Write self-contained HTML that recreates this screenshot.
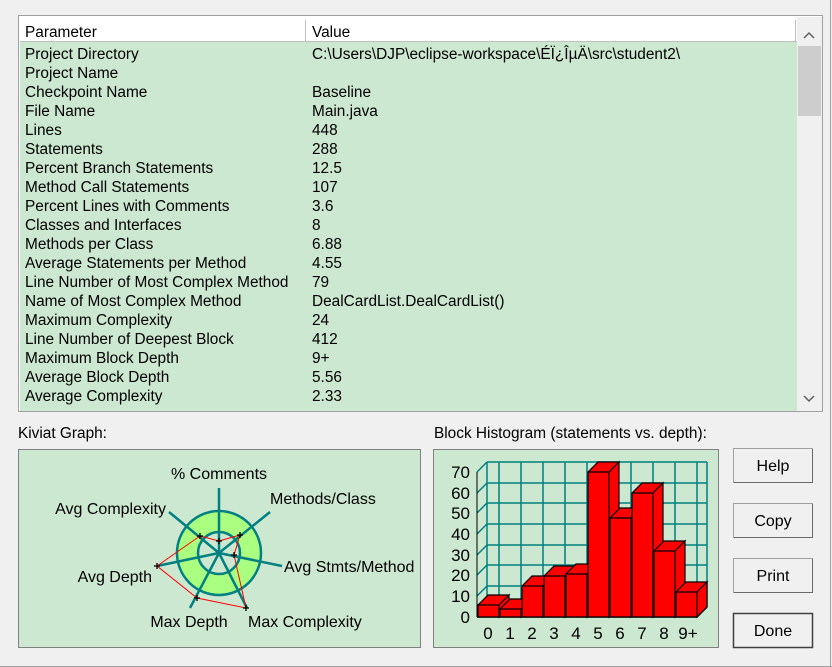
<!DOCTYPE html>
<html><head><meta charset="utf-8"><style>
body{margin:0;background:#f0f0f0;width:832px;height:667px;overflow:hidden;font-family:"Liberation Sans",sans-serif}
svg{display:block}
</style></head><body>
<svg width="832" height="667" xmlns="http://www.w3.org/2000/svg" font-family="Liberation Sans, sans-serif">
<rect width="832" height="667" fill="#f0f0f0"/>
<line x1="830.5" y1="0" x2="830.5" y2="667" stroke="#a0a0a0"/>
<line x1="0" y1="666.5" x2="832" y2="666.5" stroke="#a0a0a0"/>
<!-- list -->
<rect x="18.5" y="15.5" width="804" height="396" fill="#fff" stroke="#a0a0a0"/>
<rect x="20" y="41" width="777" height="370" fill="#cde8d0"/>
<rect x="20" y="20" width="777" height="21" fill="#fff"/>
<line x1="20" y1="41.5" x2="797" y2="41.5" stroke="#c0c0c0"/>
<line x1="305.5" y1="20" x2="305.5" y2="41" stroke="#c0c0c0"/>
<line x1="795.5" y1="20" x2="795.5" y2="41" stroke="#c0c0c0"/>
<rect x="797" y="17" width="25" height="394" fill="#f0f0f0"/>
<rect x="798" y="46" width="23" height="70" fill="#cdcdcd"/>
<path d="M804 38l5-5 5 5" fill="none" stroke="#606060" stroke-width="1.5"/>
<path d="M804 396l5 5 5-5" fill="none" stroke="#606060" stroke-width="1.5"/>
<g font-size="15.4" fill="#000">
<text x="25" y="37">Parameter</text><text x="312" y="37">Value</text>
<g>
<text x="25" y="59">Project Directory</text><text x="312" y="59">C:\Users\DJP\eclipse-workspace\ÉÏ¿ÎµÄ\src\student2\</text>
<text x="25" y="78">Project Name</text>
<text x="25" y="97">Checkpoint Name</text><text x="312" y="97">Baseline</text>
<text x="25" y="116">File Name</text><text x="312" y="116">Main.java</text>
<text x="25" y="135">Lines</text><text x="312" y="135">448</text>
<text x="25" y="154">Statements</text><text x="312" y="154">288</text>
<text x="25" y="173">Percent Branch Statements</text><text x="312" y="173">12.5</text>
<text x="25" y="192">Method Call Statements</text><text x="312" y="192">107</text>
<text x="25" y="211">Percent Lines with Comments</text><text x="312" y="211">3.6</text>
<text x="25" y="230">Classes and Interfaces</text><text x="312" y="230">8</text>
<text x="25" y="249">Methods per Class</text><text x="312" y="249">6.88</text>
<text x="25" y="268">Average Statements per Method</text><text x="312" y="268">4.55</text>
<text x="25" y="287">Line Number of Most Complex Method</text><text x="312" y="287">79</text>
<text x="25" y="306">Name of Most Complex Method</text><text x="312" y="306">DealCardList.DealCardList()</text>
<text x="25" y="325">Maximum Complexity</text><text x="312" y="325">24</text>
<text x="25" y="344">Line Number of Deepest Block</text><text x="312" y="344">412</text>
<text x="25" y="363">Maximum Block Depth</text><text x="312" y="363">9+</text>
<text x="25" y="382">Average Block Depth</text><text x="312" y="382">5.56</text>
<text x="25" y="401">Average Complexity</text><text x="312" y="401">2.33</text>
</g>
<text x="18" y="438">Kiviat Graph:</text>
<text x="434" y="438">Block Histogram (statements vs. depth):</text>
</g>
<!-- kiviat -->
<rect x="18.5" y="449.5" width="402" height="198" fill="#cde8d0" stroke="#808080"/>
<circle cx="219" cy="553" r="42" fill="#aaff80" stroke="#008080" stroke-width="2.5"/>
<circle cx="219" cy="553" r="21" fill="#cde8d0" stroke="#008080" stroke-width="2.5"/>
<g stroke="#008080" stroke-width="2.5">
<line x1="219" y1="553" x2="219" y2="488"/><line x1="219" y1="553" x2="270" y2="512"/>
<line x1="219" y1="553" x2="282" y2="566"/><line x1="219" y1="553" x2="247" y2="608"/>
<line x1="219" y1="553" x2="190" y2="608"/><line x1="219" y1="553" x2="157" y2="566"/>
<line x1="219" y1="553" x2="169" y2="512"/>
</g>
<polygon points="219,541 240,535 234,555 246,608 197,598 157,566 200,536" fill="none" stroke="#ff0000" stroke-width="1"/>
<g stroke="#000" stroke-width="1.3">
<path d="M216 541h6M219 538v6M237 535h6M240 532v6M231 555h6M234 552v6M243 608h6M246 605v6M194 598h6M197 595v6M154 566h6M157 563v6M197 536h6M200 533v6"/>
</g>
<g font-size="16" fill="#000">
<text x="219" y="479" text-anchor="middle">% Comments</text>
<text x="270" y="504">Methods/Class</text>
<text x="166" y="514" text-anchor="end">Avg Complexity</text>
<text x="284" y="572">Avg Stmts/Method</text>
<text x="152" y="582" text-anchor="end">Avg Depth</text>
<text x="189" y="627" text-anchor="middle">Max Depth</text>
<text x="248" y="627">Max Complexity</text>
</g>
<!-- histogram -->
<rect x="433.5" y="449.5" width="285" height="198" fill="#cde8d0" stroke="#808080"/>
<g stroke="#008080" stroke-width="1.5" fill="none">
<line x1="487" y1="462" x2="487" y2="607"/>
<line x1="499" y1="462" x2="499" y2="607"/><line x1="521" y1="462" x2="521" y2="607"/><line x1="543" y1="462" x2="543" y2="607"/><line x1="565" y1="462" x2="565" y2="607"/><line x1="587" y1="462" x2="587" y2="607"/><line x1="609" y1="462" x2="609" y2="607"/><line x1="631" y1="462" x2="631" y2="607"/><line x1="653" y1="462" x2="653" y2="607"/><line x1="675" y1="462" x2="675" y2="607"/><line x1="697" y1="462" x2="697" y2="607"/><line x1="707" y1="462" x2="707" y2="607"/>
<line x1="487" y1="462" x2="707" y2="462"/><line x1="487" y1="483" x2="707" y2="483"/><line x1="487" y1="503" x2="707" y2="503"/><line x1="487" y1="524" x2="707" y2="524"/><line x1="487" y1="545" x2="707" y2="545"/><line x1="487" y1="565" x2="707" y2="565"/><line x1="487" y1="586" x2="707" y2="586"/>
<path d="M477 472l10-10M477 493l10-10M477 513l10-10M477 534l10-10M477 555l10-10M477 575l10-10M477 596l10-10"/>
</g>
<line x1="477" y1="472" x2="477" y2="617" stroke="#000"/>
<path d="M477 617H697L707 607" stroke="#000" fill="none" stroke-width="1.5"/>
<g stroke="#000" stroke-width="1.2" fill="#ff0000">
<path d="M478 605v12h21v-12zM478 605l10-10h21l-10 10M499 617v-12l10-10v12z"/>
<path d="M500 609v8h21v-8zM500 609l10-10h21l-10 10M521 617v-8l10-10v8z"/>
<path d="M522 586v31h21v-31zM522 586l10-10h21l-10 10M543 617v-31l10-10v31z"/>
<path d="M544 576v41h21v-41zM544 576l10-10h21l-10 10M565 617v-41l10-10v41z"/>
<path d="M566 574v43h21v-43zM566 574l10-10h21l-10 10M587 617v-43l10-10v43z"/>
<path d="M588 472v145h21v-145zM588 472l10-10h21l-10 10M609 617v-145l10-10v145z"/>
<path d="M610 518v99h21v-99zM610 518l10-10h21l-10 10M631 617v-99l10-10v99z"/>
<path d="M632 493v124h21v-124zM632 493l10-10h21l-10 10M653 617v-124l10-10v124z"/>
<path d="M654 551v66h21v-66zM654 551l10-10h21l-10 10M675 617v-66l10-10v66z"/>
<path d="M676 592v25h21v-25zM676 592l10-10h21l-10 10M697 617v-25l10-10v25z"/>
</g>
<g font-size="17" fill="#000" text-anchor="end">
<text x="470" y="478">70</text><text x="470" y="499">60</text><text x="470" y="519">50</text><text x="470" y="540">40</text><text x="470" y="561">30</text><text x="470" y="581">20</text><text x="470" y="602">10</text><text x="470" y="623">0</text>
</g>
<g font-size="17" fill="#000" text-anchor="middle">
<text x="488" y="639">0</text><text x="510" y="639">1</text><text x="532" y="639">2</text><text x="554" y="639">3</text><text x="576" y="639">4</text><text x="598" y="639">5</text><text x="620" y="639">6</text><text x="642" y="639">7</text><text x="664" y="639">8</text><text x="688" y="639">9+</text>
</g>
<!-- buttons -->
<g font-size="16" fill="#000" text-anchor="middle">
<g><rect x="733.5" y="448.5" width="79" height="34" fill="#f0f0f0" stroke="#a0a0a0"/><path d="M734 482.5h79M812.5 449v34" stroke="#696969"/><text x="773" y="471">Help</text></g>
<g><rect x="733.5" y="503.5" width="79" height="34" fill="#f0f0f0" stroke="#a0a0a0"/><path d="M734 537.5h79M812.5 504v34" stroke="#696969"/><text x="773" y="526">Copy</text></g>
<g><rect x="733.5" y="558.5" width="79" height="34" fill="#f0f0f0" stroke="#a0a0a0"/><path d="M734 592.5h79M812.5 559v34" stroke="#696969"/><text x="773" y="581">Print</text></g>
<g><rect x="733.5" y="613.5" width="79" height="34" fill="#f0f0f0" stroke="#404040" stroke-width="1.5"/><text x="773" y="636">Done</text></g>
</g>
</svg>
</body></html>
